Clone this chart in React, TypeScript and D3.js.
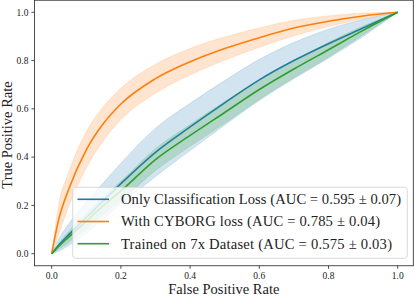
import React, { useRef, useEffect } from "react";
import * as d3 from "d3";

// false positive rate grid shared by all three curves
const fpr = [0, 0.02, 0.05, 0.1, 0.15, 0.2, 0.3, 0.4, 0.5, 0.6, 0.7, 0.8, 0.9, 1.0];

// mean tpr and spread
const onlyClsMean = [0, 0.035, 0.08, 0.15, 0.22, 0.29, 0.42, 0.525, 0.625, 0.72, 0.8, 0.87, 0.935, 1];
const onlyClsStd = [0, 0.025, 0.045, 0.065, 0.075, 0.085, 0.1, 0.098, 0.092, 0.085, 0.075, 0.06, 0.035, 0];

const cyborgMean = [0, 0.14, 0.27, 0.43, 0.54, 0.62, 0.725, 0.795, 0.85, 0.895, 0.935, 0.963, 0.985, 1];
const cyborgStd = [0, 0.06, 0.07, 0.075, 0.07, 0.065, 0.06, 0.055, 0.048, 0.04, 0.032, 0.022, 0.012, 0];

const sevenXMean = [0, 0.03, 0.07, 0.135, 0.2, 0.26, 0.39, 0.49, 0.585, 0.68, 0.765, 0.845, 0.925, 1];
const sevenXStd = [0, 0.012, 0.022, 0.032, 0.037, 0.04, 0.045, 0.045, 0.045, 0.04, 0.035, 0.03, 0.018, 0];

const labels = [
  "Only Classification Loss (AUC = 0.595 \u00b1 0.07)",
  "With CYBORG loss (AUC = 0.785 \u00b1 0.04)",
  "Trained on 7x Dataset (AUC = 0.575 \u00b1 0.03)",
];
const labelWidths = [280, 259, 271];
const colors = ["#1f77b4", "#ff7f0e", "#2ca02c"];
const tickVals = [0, 0.2, 0.4, 0.6, 0.8, 1.0];

const FONT = "'Liberation Serif', 'DejaVu Serif', serif";

function App() {
  const svgRef = useRef<SVGSVGElement>(null);

  useEffect(() => {
    const svg = d3.select(svgRef.current);
    svg.selectAll("*").remove();

    const x = d3.scaleLinear().domain([0, 1]).range([51.7, 397.7]);
    const y = d3.scaleLinear().domain([0, 1]).range([253.7, 12.3]);

    const series = [
      { mean: onlyClsMean, std: onlyClsStd },
      { mean: cyborgMean, std: cyborgStd },
      { mean: sevenXMean, std: sevenXStd },
    ];

    const g = svg.append("g");

    series.forEach((s, i) => {
      const pts = fpr.map((f, j) => ({
        f,
        m: s.mean[j],
        lo: Math.max(s.mean[j] - s.std[j], 0),
        hi: Math.min(s.mean[j] + s.std[j], 1),
      }));
      const line = d3.line<any>().x(d => x(d.f)).y(d => y(d.m)).curve(d3.curveMonotoneX);
      const area = d3.area<any>().x(d => x(d.f)).y0(d => y(d.lo)).y1(d => y(d.hi)).curve(d3.curveMonotoneX);
      g.append("path").attr("d", line(pts)).attr("fill", "none")
        .attr("stroke", colors[i]).attr("stroke-width", 1.6);
      g.append("path").attr("d", area(pts)).attr("fill", colors[i]).attr("fill-opacity", 0.2)
        .attr("stroke", colors[i]).attr("stroke-opacity", 0.2).attr("stroke-width", 0.8);
    });

    // frame
    const x0 = x(-0.05), x1 = 413.3, y0 = y(-0.05), y1 = y(1.05);
    svg.append("rect").attr("x", x0).attr("y", y1).attr("width", x1 - x0).attr("height", y0 - y1)
      .attr("fill", "none").attr("stroke", "#222").attr("stroke-width", 0.8);

    // x ticks
    const xt = svg.append("g");
    tickVals.forEach(t => {
      xt.append("line").attr("x1", x(t)).attr("x2", x(t)).attr("y1", y0).attr("y2", y0 + 3)
        .attr("stroke", "#222").attr("stroke-width", 0.8);
      xt.append("text").attr("x", x(t)).attr("y", y0 + 13.3).attr("text-anchor", "middle")
        .attr("font-family", FONT).attr("font-size", 9.5).attr("fill", "#222").text(t.toFixed(1));
    });
    // y ticks
    const yt = svg.append("g");
    tickVals.forEach(t => {
      yt.append("line").attr("x1", x0 - 3).attr("x2", x0).attr("y1", y(t)).attr("y2", y(t))
        .attr("stroke", "#222").attr("stroke-width", 0.8);
      yt.append("text").attr("x", x0 - 6).attr("y", y(t) + 3.3).attr("text-anchor", "end")
        .attr("font-family", FONT).attr("font-size", 9.5).attr("fill", "#222").text(t.toFixed(1));
    });

    svg.append("text").attr("x", (x0 + x1) / 2).attr("y", 293.5).attr("text-anchor", "middle")
      .attr("font-family", FONT).attr("font-size", 14.5).attr("fill", "#222").text("False Positive Rate");
    svg.append("text").attr("transform", `translate(12,${(y0 + y1) / 2 + 2}) rotate(-90)`)
      .attr("text-anchor", "middle").attr("font-family", FONT).attr("font-size", 14.5)
      .attr("fill", "#222").text("True Positive Rate");

    // legend
    const lg = svg.append("g");
    lg.append("rect").attr("x", 72.7).attr("y", 187.3).attr("width", 334.6).attr("height", 71)
      .attr("rx", 3).attr("fill", "white").attr("fill-opacity", 0.8)
      .attr("stroke", "#d0d0d0").attr("stroke-width", 0.8);
    labels.forEach((lab, i) => {
      const ry = 199.3 + i * 22.2;
      lg.append("line").attr("x1", 77.5).attr("x2", 109).attr("y1", ry).attr("y2", ry)
        .attr("stroke", colors[i]).attr("stroke-width", 1.6);
      lg.append("text").attr("x", 121).attr("y", ry + 4.8).attr("font-family", FONT)
        .attr("font-size", 14.6).attr("fill", "#222")
        .attr("textLength", labelWidths[i]).attr("lengthAdjust", "spacing").text(lab);
    });
  }, []);

  return (
    <svg ref={svgRef} width={415} height={297}
      style={{ position: "absolute", left: 0, top: 0, background: "white" }} />
  );
}

export default App;
